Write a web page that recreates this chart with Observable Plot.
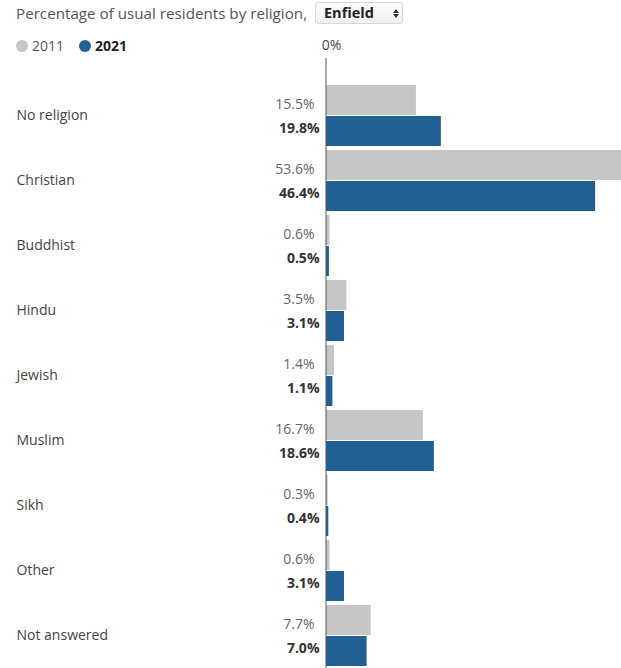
<!DOCTYPE html>
<html><head><meta charset="utf-8">
<script src="https://cdn.jsdelivr.net/npm/d3@7"></script>
<script src="https://cdn.jsdelivr.net/npm/@observablehq/plot@0.6"></script>
<style>
html,body{margin:0;padding:0;background:#fff}
body{font-family:"Open Sans",sans-serif;width:621px;height:668px;overflow:hidden;position:relative}
#title{position:absolute;left:16px;top:2px;font-size:15.2px;line-height:22px;color:#555}
#sel{position:absolute;left:315px;top:2px;width:88px;height:22px;border:1px solid #d6d6d6;border-radius:3px;background:linear-gradient(#fdfdfd,#f0f0f0);box-sizing:border-box}
#sel span{position:absolute;left:8px;top:0;font-size:14.5px;line-height:20px;font-weight:700;color:#222}
#sel i{position:absolute;left:77px;width:0;height:0;border-left:3px solid transparent;border-right:3px solid transparent}
#sel i.u{top:6px;border-bottom:4px solid #333}
#sel i.d{top:11px;border-top:4px solid #333}
#legend{position:absolute;left:16px;top:37px;font-size:14px;line-height:18px;color:#555;white-space:nowrap}
#legend .dot{display:inline-block;width:12px;height:12px;border-radius:6px;vertical-align:-1px;margin-right:4px}
#legend .item{display:inline-block;margin-right:15px}
#chart{position:absolute;left:0;top:30px}
</style></head>
<body>
<div id="title">Percentage of usual residents by religion,</div>
<div id="sel"><span>Enfield</span><i class="u"></i><i class="d"></i></div>
<div id="legend"></div>
<div id="chart"></div>
<script>
const categories = ["No religion","Christian","Buddhist","Hindu","Jewish","Muslim","Sikh","Other","Not answered"];
const values2011 = [15.5,53.6,0.6,3.5,1.4,16.7,0.3,0.6,7.7];
const values2021 = [19.8,46.4,0.5,3.1,1.1,18.6,0.4,3.1,7.0];
const years = ["2011","2021"];
const colors = ["#c6c6c6","#206095"];

const rows = categories.map((c,i)=>({cat:c, v2011:values2011[i], v2021:values2021[i]}));
const fmt = d => d.toFixed(1) + "%";

const lg = document.getElementById("legend");
years.forEach((y,i)=>{
  const s = document.createElement("span");
  s.className = "item";
  s.innerHTML = `<span class="dot" style="background:${colors[i]}"></span><span style="${i===1?'font-weight:700;color:#222':''}">${y}</span>`;
  lg.appendChild(s);
});

const chart = Plot.plot({
  width: 621,
  height: 638,
  marginLeft: 326,
  marginRight: 0,
  marginTop: 28,
  marginBottom: 0,
  style: {fontFamily: "'Open Sans', sans-serif", fontSize: "14px", background: "transparent", overflow: "hidden"},
  x: {domain: [0, 50.86], axis: null},
  y: {domain: categories, range: [55, 636], paddingInner: 4/65, paddingOuter: 0, align: 0, axis: null},
  marks: [
    Plot.barX(rows, {x: "v2011", y: "cat", fill: colors[0], insetBottom: 31}),
    Plot.barX(rows, {x: "v2021", y: "cat", fill: colors[1], insetTop: 31}),
    Plot.ruleX([0], {stroke: "#555", strokeWidth: 1, dx: -0.5}),
    Plot.axisX({anchor: "top", ticks: [0], tickFormat: d => d + "%", tickSize: 0, tickPadding: 9, dx: 5, fill: "#444", fontSize: 14}),
    Plot.text(rows, {y: "cat", text: "cat", frameAnchor: "left", dx: -310, textAnchor: "start", fill: "#444"}),
    Plot.text(rows, {x: () => 0, y: "cat", text: d => fmt(d.v2011), dx: -12, dy: -11.5, textAnchor: "end", fill: "#666"}),
    Plot.text(rows, {x: () => 0, y: "cat", text: d => fmt(d.v2021), dx: -7, dy: 12.5, textAnchor: "end", fill: "#333", fontWeight: 700})
  ]
});
document.getElementById("chart").appendChild(chart);
</script>
</body></html>
